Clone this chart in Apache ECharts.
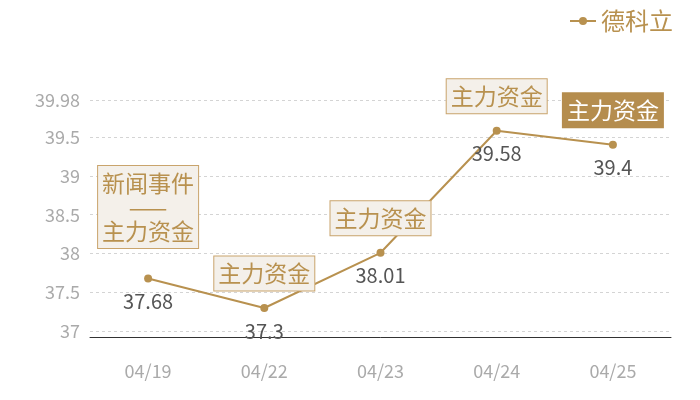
<!DOCTYPE html>
<html>
<head>
<meta charset="utf-8">
<script src="https://cdn.jsdelivr.net/npm/echarts@6/dist/echarts.min.js"></script>
<style>
html,body{margin:0;padding:0;background:#fff;}
#chart{width:700px;height:400px;}
</style>
</head>
<body>
<div id="chart"></div>
<script>
const seriesName = '德科立';
const categories = ['04/19', '04/22', '04/23', '04/24', '04/25'];
const prices = [37.68, 37.3, 38.01, 39.58, 39.4];
const eventTexts = ['新闻事件\n——\n主力资金', '主力资金', '主力资金', '主力资金', '主力资金'];
const eventActive = [false, false, false, false, true];

const GOLD = '#b8914f';
const FONT = '"Noto Sans CJK SC", "Noto Sans", sans-serif';

const markData = categories.map((c, i) => {
  const multi = eventTexts[i].indexOf('\n') >= 0;
  const active = eventActive[i];
  return {
    name: eventTexts[i],
    coord: [c, prices[i]],
    label: {
      show: true,
      position: 'top',
      distance: multi ? 30 : 17,
      formatter: '{b}',
      fontFamily: FONT,
      fontSize: 23,
      lineHeight: 24,
      align: 'center',
      color: active ? '#ffffff' : GOLD,
      backgroundColor: active ? '#b58d4e' : '#f4f0ea',
      borderColor: active ? '#b58d4e' : '#c9a46c',
      borderWidth: 1,
      padding: [5, 4, 5, 4]
    }
  };
});

const chart = echarts.init(document.getElementById('chart'));
chart.setOption({
  animation: false,
  backgroundColor: '#ffffff',
  legend: {
    data: [seriesName],
    right: 22,
    top: 4,
    itemWidth: 26,
    itemHeight: 10,
    itemGap: 4,
    textStyle: { color: GOLD, fontSize: 24, fontFamily: FONT }
  },
  grid: { left: 90, right: 29, top: 100, bottom: 63 },
  xAxis: {
    type: 'category',
    data: categories,
    boundaryGap: true,
    axisLine: { lineStyle: { color: '#333', width: 1 } },
    axisTick: { show: false },
    axisLabel: { color: '#aaaaaa', fontSize: 18, margin: 25, fontFamily: FONT }
  },
  yAxis: {
    type: 'value',
    min: v => v.min * 0.99,
    max: v => v.max * 1.01,
    axisLine: { show: false },
    axisTick: { show: false },
    axisLabel: {
      color: '#aaaaaa', fontSize: 18, margin: 10, fontFamily: FONT,
      showMinLabel: false,
      formatter: v => String(parseFloat(v.toFixed(2)))
    },
    splitLine: { lineStyle: { type: [3, 3], color: '#d4d4d4' } }
  },
  series: [{
    name: seriesName,
    type: 'line',
    data: prices,
    symbol: 'circle',
    symbolSize: 8,
    itemStyle: { color: GOLD },
    lineStyle: { color: GOLD, width: 2 },
    label: {
      show: true,
      position: 'bottom',
      distance: 9,
      color: '#555555',
      fontSize: 20,
      fontFamily: FONT
    },
    markPoint: {
      symbol: 'circle',
      symbolSize: 1,
      itemStyle: { color: 'rgba(0,0,0,0)' },
      data: markData
    }
  }]
});
</script>
</body>
</html>
